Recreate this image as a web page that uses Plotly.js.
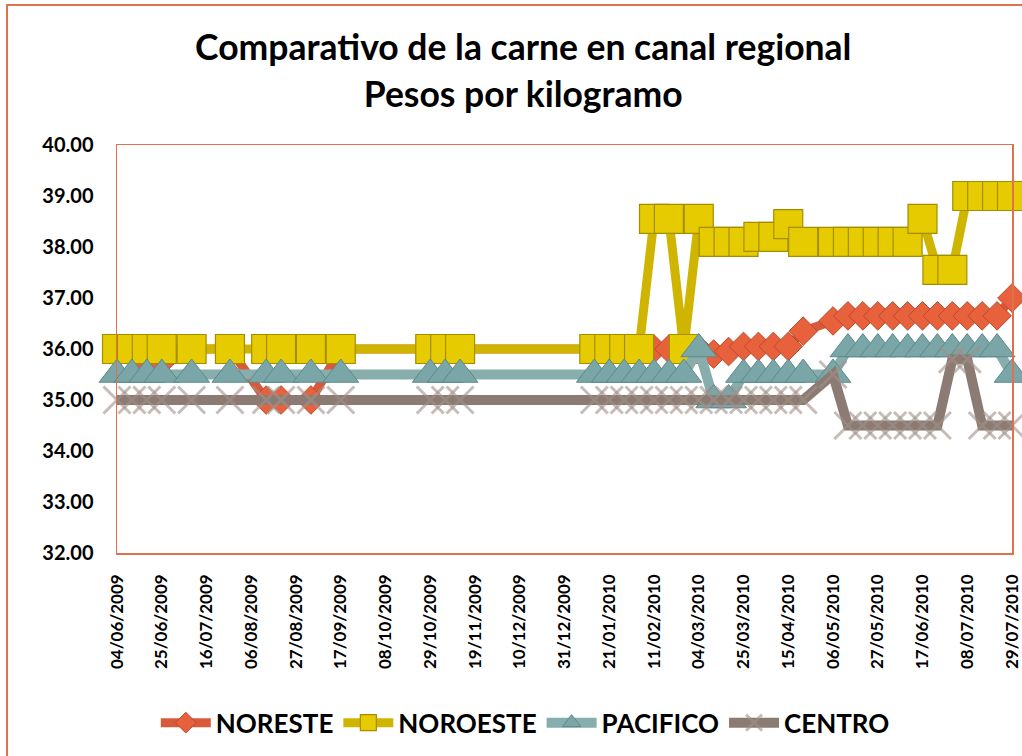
<!DOCTYPE html>
<html>
<head>
<meta charset="utf-8">
<script src="https://cdn.plot.ly/plotly-3.0.1.min.js"></script>
<style>
  html, body { margin: 0; padding: 0; background: #fff; }
  #wrap { position: relative; width: 1022px; height: 756px; overflow: hidden; }
  #chart { position: absolute; left: 0; top: 0; width: 1022px; height: 756px; }
  #frame { position: absolute; left: 6px; top: 4px; width: 1030px; height: 770px;
           border-left: 2px solid #E0714F; border-top: 2px solid #E0714F; pointer-events: none; }
</style>
</head>
<body>
<div id="wrap">
  <div id="chart"></div>
  <div id="frame"></div>
</div>
<script>
// ---- data ----
const fechas = [
  '2009-06-04','2009-06-11','2009-06-18','2009-06-25','2009-07-09','2009-07-27','2009-08-13','2009-08-20','2009-09-03','2009-09-17',
  '2009-10-29','2009-11-05','2009-11-12',
  '2010-01-14','2010-01-21','2010-01-28','2010-02-04','2010-02-11','2010-02-18','2010-02-25',
  '2010-03-04','2010-03-11','2010-03-18','2010-03-25','2010-04-01','2010-04-08','2010-04-15','2010-04-22',
  '2010-05-06','2010-05-13','2010-05-20','2010-05-27','2010-06-03','2010-06-10','2010-06-17','2010-06-24',
  '2010-07-01','2010-07-08','2010-07-15','2010-07-22','2010-07-29'
];

const noreste = [
  36.0, 36.0, 35.75, 35.75, 36.0, 36.0, 35.0, 35.0, 35.0, 36.0,
  36.0, 36.0, 36.0,
  36.0, 36.0, 36.0, 36.0, 36.0, 36.0, 36.0,
  36.0, 35.9, 35.95, 36.05, 36.05, 36.05, 36.05, 36.35,
  36.55, 36.65, 36.65, 36.65, 36.65, 36.65, 36.65, 36.65,
  36.65, 36.65, 36.65, 36.65, 37.0
];

const noroeste = [
  36.0, 36.0, 36.0, 36.0, 36.0, 36.0, 36.0, 36.0, 36.0, 36.0,
  36.0, 36.0, 36.0,
  36.0, 36.0, 36.0, 36.0, 38.55, 38.55, 36.0,
  38.55, 38.1, 38.1, 38.1, 38.2, 38.2, 38.45, 38.1,
  38.1, 38.1, 38.1, 38.1, 38.1, 38.1, 38.55, 37.55,
  37.55, 39.0, 39.0, 39.0, 39.0
];

const pacifico = [
  35.5, 35.5, 35.5, 35.5, 35.5, 35.5, 35.5, 35.5, 35.5, 35.5,
  35.5, 35.5, 35.5,
  35.5, 35.5, 35.5, 35.5, 35.5, 35.5, 35.5,
  36.0, 35.0, 35.0, 35.5, 35.5, 35.5, 35.5, 35.5,
  35.5, 36.0, 36.0, 36.0, 36.0, 36.0, 36.0, 36.0,
  36.0, 36.0, 36.0, 36.0, 35.5
];

const centro = [
  35.0, 35.0, 35.0, 35.0, 35.0, 35.0, 35.0, 35.0, 35.0, 35.0,
  35.0, 35.0, 35.0,
  35.0, 35.0, 35.0, 35.0, 35.0, 35.0, 35.0,
  35.0, 35.0, 35.0, 35.0, 35.0, 35.0, 35.0, 35.0,
  35.5, 34.5, 34.5, 34.5, 34.5, 34.5, 34.5, 34.5,
  35.8, 35.8, 34.5, 34.5, 34.5
];

const xTickLabels = [
  '04/06/2009','25/06/2009','16/07/2009','06/08/2009','27/08/2009','17/09/2009','08/10/2009',
  '29/10/2009','19/11/2009','10/12/2009','31/12/2009','21/01/2010','11/02/2010','04/03/2010',
  '25/03/2010','15/04/2010','06/05/2010','27/05/2010','17/06/2010','08/07/2010','29/07/2010'
];
const yTickValues = [32, 33, 34, 35, 36, 37, 38, 39, 40];
const yTickLabels = ['32.00','33.00','34.00','35.00','36.00','37.00','38.00','39.00','40.00'];

const titulo = 'Comparativo de la carne en canal regional<br>Pesos por kilogramo';
const serieNombres = ['NORESTE', 'NOROESTE', 'PACIFICO', 'CENTRO'];

// ---- build ----
function toIso(s) { const p = s.split('/'); return p[2] + '-' + p[1] + '-' + p[0]; }
const xTickVals = xTickLabels.map(toIso);

const FONT = 'Lato, "Open Sans", "DejaVu Sans", sans-serif';

const traces = [
  {
    name: serieNombres[0], x: fechas, y: noreste, type: 'scatter', mode: 'lines+markers',
    cliponaxis: false,
    line: { color: '#D95A3B', width: 9 },
    marker: { symbol: 'diamond', size: 22, color: '#E8613D', line: { color: '#B94A2D', width: 1 } }
  },
  {
    name: serieNombres[1], x: fechas, y: noroeste, type: 'scatter', mode: 'lines+markers',
    cliponaxis: false,
    line: { color: '#CFB500', width: 9 },
    marker: { symbol: 'square', size: 29, color: '#E6CB00', line: { color: '#A48E00', width: 1.2 } }
  },
  {
    name: serieNombres[2], x: fechas, y: pacifico, type: 'scatter', mode: 'lines+markers',
    cliponaxis: false,
    line: { color: '#87ADAD', width: 10 },
    marker: { symbol: 'triangle-up', size: 31, color: '#7AA6A8', line: { color: '#5E898C', width: 1 } }
  },
  {
    name: serieNombres[3], x: fechas, y: centro, type: 'scatter', mode: 'lines+markers',
    cliponaxis: false,
    line: { color: '#8B7B73', width: 10 },
    marker: { symbol: 'x-thin-open', size: 27, color: 'rgba(160,145,137,0.6)', line: { width: 3 } }
  }
];

const layout = {
  width: 1022, height: 756,
  margin: { l: 117, r: 10, t: 145, b: 203 },
  paper_bgcolor: '#ffffff', plot_bgcolor: '#ffffff',
  font: { family: FONT, color: '#000000' },
  title: {
    text: titulo,
    font: { family: FONT, size: 35.5, weight: 'bold', color: '#000000' },
    x: 0.512, xref: 'container', xanchor: 'center',
    y: 0.92, yref: 'container', yanchor: 'top'
  },
  xaxis: {
    type: 'date',
    range: ['2009-06-04', '2010-07-29'],
    tickmode: 'array', tickvals: xTickVals, ticktext: xTickLabels,
    tickangle: -90,
    tickfont: { family: FONT, size: 17, weight: 'bold', color: '#000000' },
    ticks: '', ticklabelstandoff: 13,
    showgrid: false, zeroline: false,
    showline: true, linecolor: '#E0714F', linewidth: 1.5, mirror: true
  },
  yaxis: {
    range: [32, 40],
    tickmode: 'array', tickvals: yTickValues, ticktext: yTickLabels,
    tickfont: { family: FONT, size: 20, weight: 'bold', color: '#000000' },
    ticks: '', ticklabelstandoff: 18,
    showgrid: false, zeroline: false,
    showline: true, linecolor: '#E0714F', linewidth: 1.5, mirror: true
  },
  showlegend: true,
  legend: {
    orientation: 'h',
    x: 0.514, xref: 'container', xanchor: 'center',
    y: 0.044, yref: 'container', yanchor: 'middle',
    font: { family: FONT, size: 26, weight: 'bold', color: '#000000' },
    itemwidth: 50,
    bgcolor: 'rgba(0,0,0,0)'
  }
};

Plotly.newPlot('chart', traces, layout, { displayModeBar: false, staticPlot: true });
</script>
</body>
</html>
